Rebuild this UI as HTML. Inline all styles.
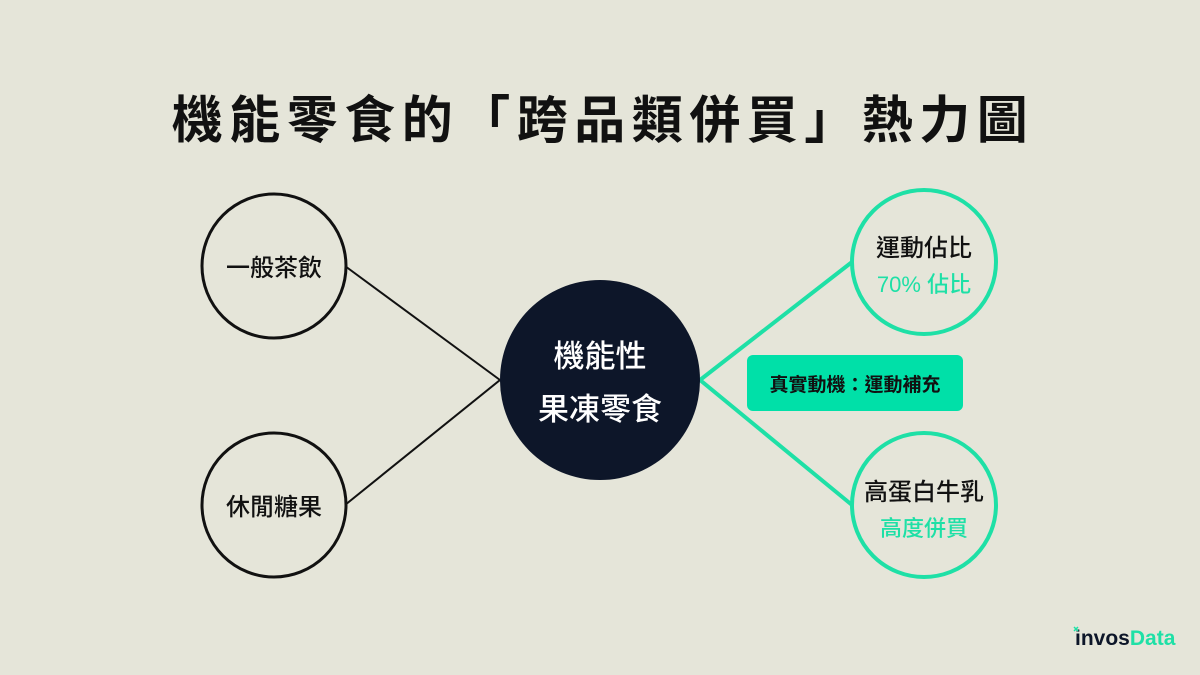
<!DOCTYPE html>
<html><head><meta charset="utf-8"><style>
body{margin:0;width:1200px;height:675px;background:#e5e5d9;overflow:hidden}
svg{display:block}
text{font-family:"Liberation Sans","Noto Sans CJK TC",sans-serif}
</style></head><body>
<svg width="1200" height="675" viewBox="0 0 1200 675">
<rect width="1200" height="675" fill="#e5e5d9"/>
<text x="603" y="138" text-anchor="middle" font-size="51" font-weight="bold" fill="#111" letter-spacing="6.5">機能零食的「跨品類併買」熱力圖</text>
<g stroke="#111" stroke-width="2" fill="none">
<line x1="345" y1="266" x2="500" y2="380"/>
<line x1="345" y1="505" x2="500" y2="380"/>
<circle cx="274" cy="266" r="72" stroke-width="3"/>
<circle cx="274" cy="505" r="72" stroke-width="3"/>
</g>
<g stroke="#1ee0a6" stroke-width="4" fill="none">
<line x1="700" y1="380" x2="852" y2="262"/>
<line x1="700" y1="380" x2="852" y2="505"/>
<circle cx="924" cy="262" r="72"/>
<circle cx="924" cy="505" r="72"/>
</g>
<circle cx="600" cy="380" r="100" fill="#0d1629"/>
<g font-weight="500">
<text x="600" y="367" text-anchor="middle" font-size="31" fill="#fff">機能性</text>
<text x="600" y="420" text-anchor="middle" font-size="31" fill="#fff">果凍零食</text>
<text x="274" y="276" text-anchor="middle" font-size="24" fill="#111">一般茶飲</text>
<text x="274" y="515" text-anchor="middle" font-size="24" fill="#111">休閒糖果</text>
<text x="924" y="256" text-anchor="middle" font-size="24" fill="#111">運動佔比</text>
<text x="924" y="292" text-anchor="middle" font-size="22" fill="#1ee0a6">70% 佔比</text>
<text x="924" y="500" text-anchor="middle" font-size="24" fill="#111">高蛋白牛乳</text>
<text x="924" y="536" text-anchor="middle" font-size="22" fill="#1ee0a6">高度併買</text>
</g>
<rect x="747" y="355" width="216" height="56" rx="6" fill="#00e0a8"/>
<text x="855" y="391" text-anchor="middle" font-size="19" font-weight="bold" fill="#111">真實動機：運動補充</text>
<text x="1075" y="645" font-size="21" font-weight="bold" fill="#0d1629">invos<tspan fill="#1ee0a6">Data</tspan></text>
<path d="M1074 627 l4 4 M1078 627 l-4 4" stroke="#1ee0a6" stroke-width="1.5"/>
</svg>
</body></html>
